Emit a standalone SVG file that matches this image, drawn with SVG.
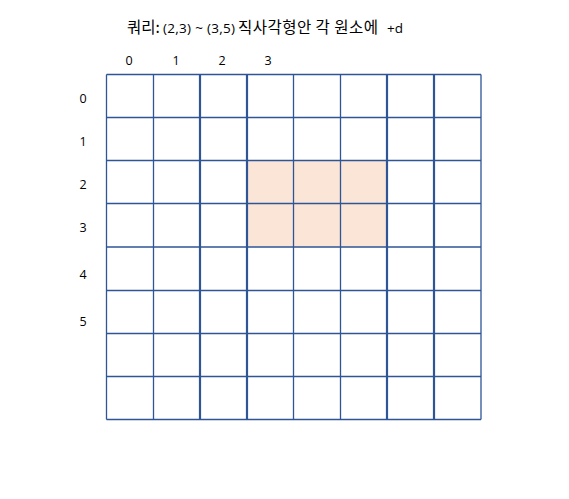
<svg xmlns="http://www.w3.org/2000/svg" width="569" height="499" viewBox="0 0 569 499">
<style>
.t{font-family:"Open Sans","Noto Sans CJK KR",sans-serif;fill:#000}
.k{font-family:"Noto Sans CJK KR","Open Sans",sans-serif;fill:#000;font-weight:400}
.lbl{font-size:12.5px;text-anchor:middle}
.h{stroke:#2F5597;stroke-width:1.3;fill:none}
.v{stroke:#2F5597;stroke-width:1.3;fill:none}
.vk{stroke:#2F5597;stroke-width:2.2;fill:none}
</style>
<rect width="569" height="499" fill="#fff"/>
<g id="title">
<text class="k" x="127" y="33" font-size="15.5">쿼리:</text>
<text class="t" x="163" y="33" font-size="13.5" textLength="72">(2,3) ~ (3,5)</text>
<text class="k" x="238" y="33" font-size="15.5" textLength="140">직사각형안 각 원소에</text>
<text class="t" x="387" y="33" font-size="13.5">+d</text>
</g>
<g id="col-labels">
<text class="t lbl" x="129" y="65">0</text>
<text class="t lbl" x="176" y="65">1</text>
<text class="t lbl" x="222" y="65">2</text>
<text class="t lbl" x="268" y="65">3</text>
</g>
<g id="row-labels">
<text class="t lbl" x="83" y="103">0</text>
<text class="t lbl" x="83" y="146">1</text>
<text class="t lbl" x="83" y="189">2</text>
<text class="t lbl" x="83" y="232">3</text>
<text class="t lbl" x="83" y="279">4</text>
<text class="t lbl" x="83" y="326">5</text>
</g>
<g id="highlight">
<rect x="247" y="160.5" width="140" height="86.5" fill="#FAE5D7"/>
</g>
<g id="grid">
<path class="h" d="M106.5 74.5H481M106.5 117.5H481M106.5 160.5H481M106.5 203.5H481M106.5 247H481M106.5 290.5H481M106.5 333.5H481M106.5 376.5H481M106.5 419.5H481"/>
<path class="v" d="M106.5 74.5V419.5M153.5 74.5V419.5M293.5 74.5V419.5M340.5 74.5V419.5M481 74.5V419.5"/>
<path class="vk" d="M200 74.5V419.5M247 74.5V419.5M387 74.5V419.5M434 74.5V419.5"/>
</g>
</svg>
